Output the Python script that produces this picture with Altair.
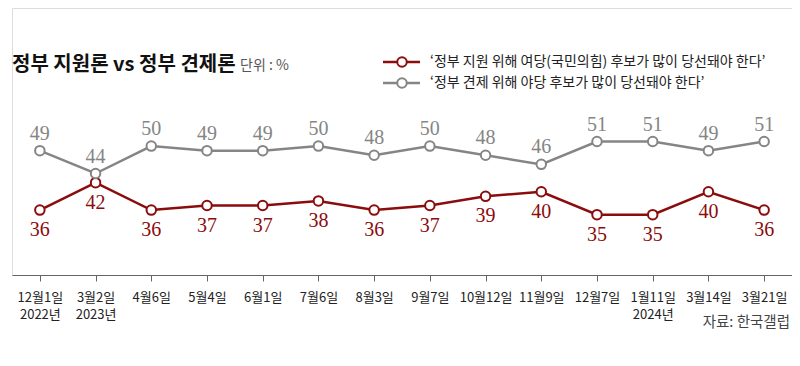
import altair as alt
import pandas as pd

dates = ["12월1일", "3월2일", "4월6일", "5월4일", "6월1일", "7월6일", "8월3일",
         "9월7일", "10월12일", "11월9일", "12월7일", "1월11일", "3월14일", "3월21일"]
years = ["2022년", "2023년", "", "", "", "", "", "", "", "", "", "2024년", "", ""]
check = [49, 44, 50, 49, 49, 50, 48, 50, 48, 46, 51, 51, 49, 51]
support = [36, 42, 36, 37, 37, 38, 36, 37, 39, 40, 35, 35, 40, 36]

series_names = ["지원", "견제"]
colors = ["#8b0c0c", "#858585"]

title_text = "정부 지원론 vs 정부 견제론"
unit_text = "단위 : %"
legend_texts = ["‘정부 지원 위해 여당(국민의힘) 후보가 많이 당선돼야 한다’",
                "‘정부 견제 위해 야당 후보가 많이 당선돼야 한다’"]
source_text = "자료: 한국갤럽"

cats = [d + ("|" + y if y else "") for d, y in zip(dates, years)]
rows = []
for c, v in zip(cats, support):
    rows.append({"cat": c, "value": v, "series": "지원"})
for c, v in zip(cats, check):
    rows.append({"cat": c, "value": v, "series": "견제"})
df = pd.DataFrame(rows)

xenc = alt.X("cat:N", sort=cats, title=None,
             scale=alt.Scale(type="point", padding=0.5),
             axis=alt.Axis(labelExpr="split(datum.value, '|')", labelAngle=0,
                           labelFont="Noto Sans CJK KR", labelFontSize=13,
                           labelColor="#222222", labelLineHeight=17,
                           labelPadding=10, labelBaseline="top",
                           domainColor="#666666", tickColor="#666666",
                           tickSize=6, domainWidth=1, tickWidth=1, grid=False))
yenc = alt.Y("value:Q", scale=alt.Scale(domain=[21.8, 80.2], nice=False, zero=False),
             axis=None)
cenc = alt.Color("series:N", scale=alt.Scale(domain=series_names, range=colors),
                 legend=None)

base = alt.Chart(df)
lines = base.mark_line(strokeWidth=2.5).encode(x=xenc, y=yenc, color=cenc,
                                                detail="series:N")
points = base.mark_point(shape="circle", filled=False, fill="white", size=90,
                         strokeWidth=2, opacity=1).encode(x=xenc, y=yenc, color=cenc)
lab_sup = base.transform_filter(alt.datum.series == "지원").mark_text(
    font="Liberation Serif", fontSize=20, baseline="middle", dy=20,
    color=colors[0]).encode(x=xenc, y=yenc, text="value:Q")
lab_chk = base.transform_filter(alt.datum.series == "견제").mark_text(
    font="Liberation Serif", fontSize=20, baseline="middle", dy=-17,
    color=colors[1]).encode(x=xenc, y=yenc, text="value:Q")

def txt(t, x, y, **kw):
    return alt.Chart(pd.DataFrame({"t": [t]})).mark_text(**kw).encode(
        text="t:N", x=alt.value(x), y=alt.value(y))

title = txt(title_text, 0, 57, font="Noto Sans CJK KR", fontSize=20,
            fontWeight="bold", align="left", baseline="middle", color="#111111")
unit = txt(unit_text, 228, 58, font="Noto Sans CJK KR", fontSize=14,
           align="left", baseline="middle", color="#555555")
leg1 = txt(legend_texts[0], 418, 54, font="Noto Sans CJK KR", fontSize=14,
           align="left", baseline="middle", color="#222222")
leg2 = txt(legend_texts[1], 418, 75, font="Noto Sans CJK KR", fontSize=14,
           align="left", baseline="middle", color="#222222")
src = txt(source_text, 778, 315, font="Noto Sans CJK KR", fontSize=14.5,
          align="right", baseline="middle", color="#444444")

leg_df = pd.DataFrame({"series": series_names, "yy": [54, 75]})
leg_rules = alt.Chart(leg_df).mark_rule(strokeWidth=2.5).encode(
    x=alt.value(371), x2=alt.value(408), y=alt.Y("yy:Q", scale=None), color=cenc)
leg_pts = alt.Chart(leg_df).mark_point(shape="circle", filled=False, fill="white",
                                       size=90, strokeWidth=2, opacity=1).encode(
    x=alt.value(390), y=alt.Y("yy:Q", scale=None), color=cenc)

chart = alt.layer(lines, points, lab_sup, lab_chk, title, unit, leg_rules, leg_pts,
                  leg1, leg2, src).resolve_scale(color="shared").properties(
    width=780, height=267,
    autosize=alt.AutoSizeParams(type="none"),
    padding={"left": 4, "top": 0, "right": 0, "bottom": 83},
).configure_view(stroke=None).configure(background="white")

chart.save("out.html", embed_options={"renderer": "svg", "actions": False})
